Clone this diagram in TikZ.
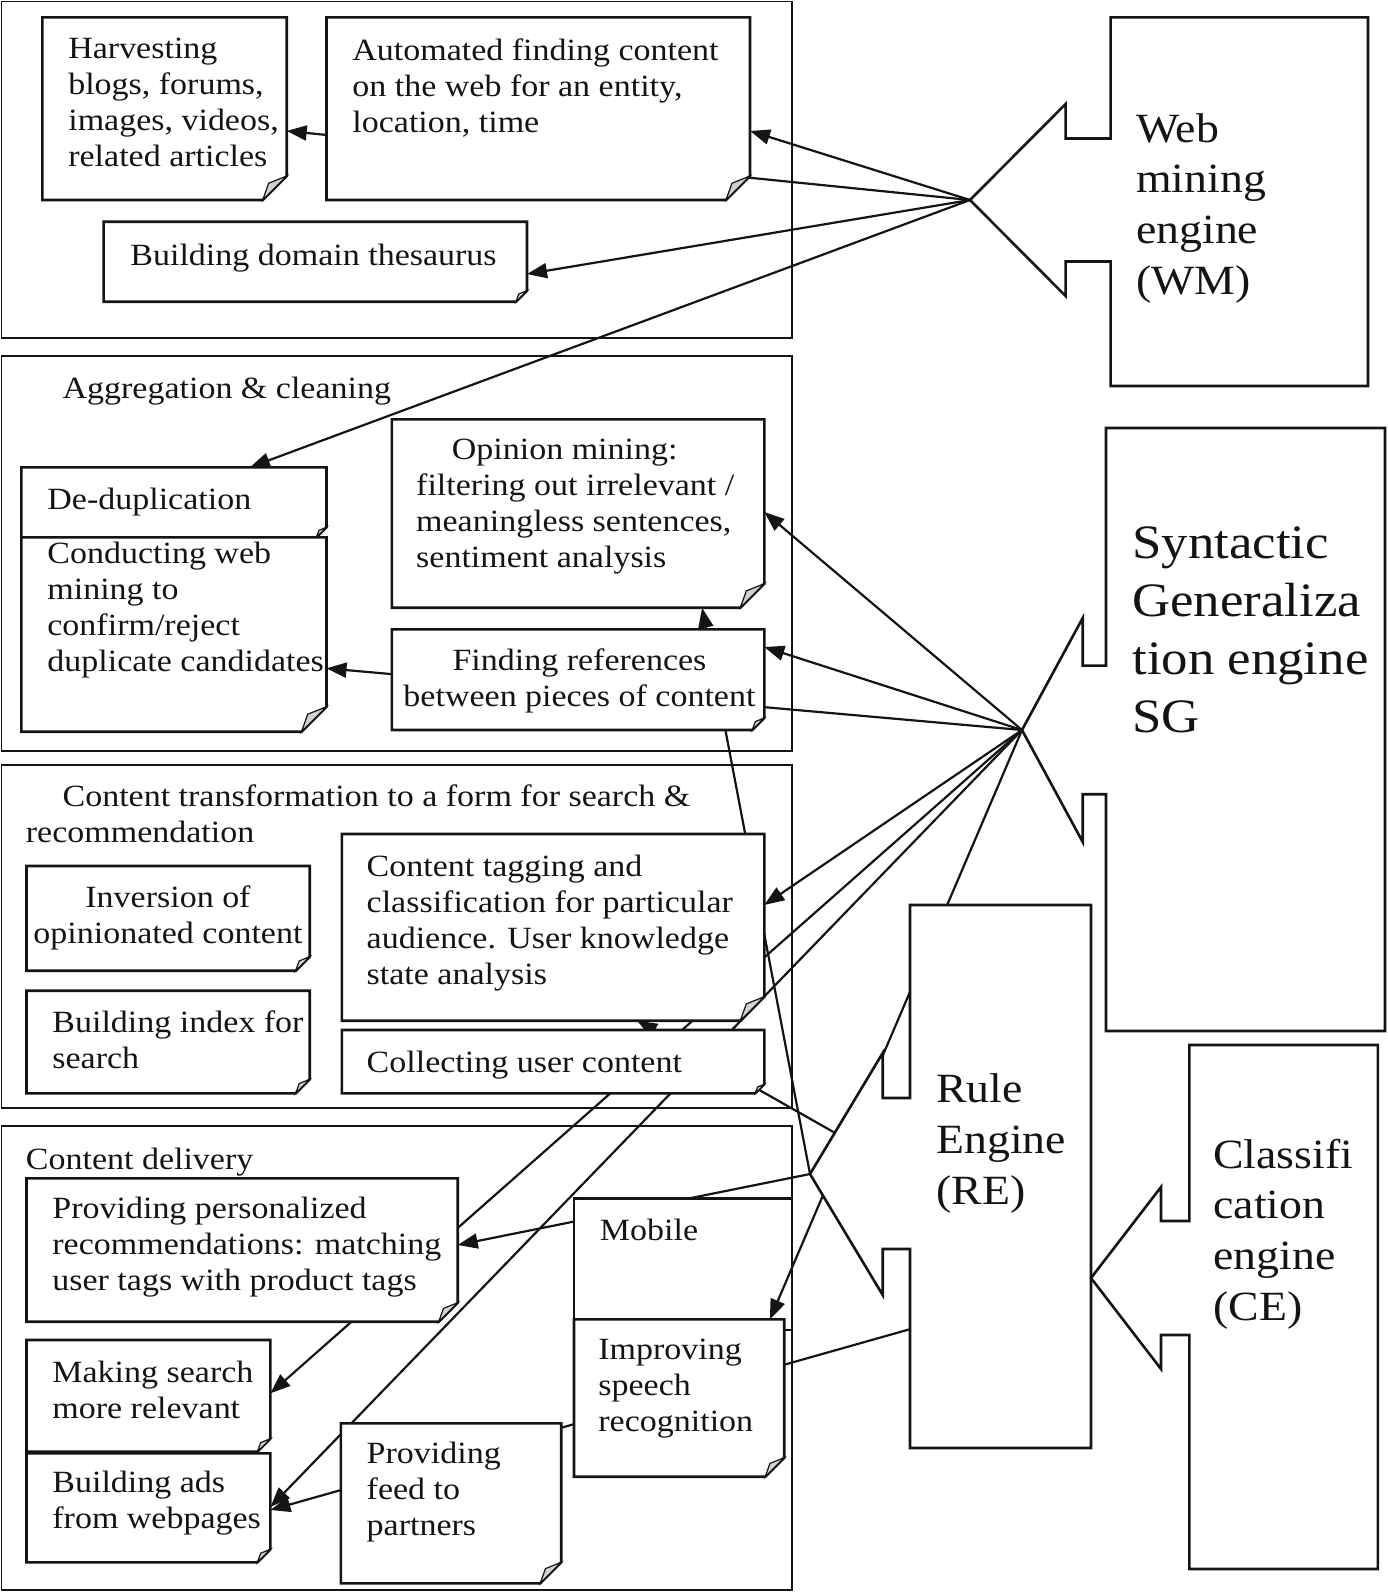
\documentclass[tikz,border=0pt]{standalone}
\usepackage{fontspec}
\setmainfont{Liberation Serif}[FakeStretch=1.1]
\usetikzlibrary{arrows.meta,calc,fit}
\definecolor{ink}{HTML}{141414}
\definecolor{foldgray}{HTML}{D2D2D2}
\newcommand\bodyfont{\fontsize{15.45pt}{18pt}\selectfont}
\newcommand\engfont{\fontsize{20.8pt}{25.4pt}\selectfont}
\newcommand\sgfont{\fontsize{24pt}{29pt}\selectfont}
\tikzset{
  grp/.style={draw=ink, line width=0.8pt, inner sep=0pt, outer sep=0pt},
  holder/.style={inner sep=0pt, outer sep=0pt},
  boxline/.style={draw=ink, line width=1.3pt, fill=white, line join=miter},
  foldline/.style={draw=ink, line width=0.6pt, fill=foldgray},
  callout/.style={draw=ink, line width=1.3pt, fill=white, line join=miter},
  conn/.style={draw=ink, line width=1.1pt},
  arr/.style={conn, -{Triangle[length=10pt,width=7.5pt]}},
  txt/.style={inner sep=0pt, anchor=north west, align=left, font=\bodyfont, text=ink},
  ctxt/.style={inner sep=0pt, anchor=north, align=center, font=\bodyfont, text=ink},
  etxt/.style={inner sep=0pt, anchor=north west, align=left, font=\engfont, text=ink},
}
\newcommand\defbox[5]{%
  \coordinate (#1-nw) at (#2,#3);
  \coordinate (#1-se) at (#4,#5);
  \node[holder, fit=(#1-nw)(#1-se)] (#1) {};}
\newcommand\drawnote[2]{%
  \path[boxline] (#1.north west) -- (#1.north east) -- ($(#1.south east)+(0,-#2)$)
     -- ($(#1.south east)+(-#2,0)$) -- (#1.south west) -- cycle;
  \path[foldline] ($(#1.south east)+(0,-#2)$) -- ($(#1.south east)+(-#2,0)$)
     -- ($(#1.south east)+(-0.75*#2,-0.7*#2)$) -- cycle;}
\begin{document}
\begin{tikzpicture}[x=0.5pt,y=-0.5pt]
\useasboundingbox (0,0) rectangle (1388,1592);

% ---- group frames
\coordinate (g1-nw) at (1.5,1.5);   \coordinate (g1-se) at (792,338);
\coordinate (g2-nw) at (1.5,356);   \coordinate (g2-se) at (792,751);
\coordinate (g3-nw) at (1.5,765);   \coordinate (g3-se) at (792,1108);
\coordinate (g4-nw) at (1.5,1126);  \coordinate (g4-se) at (792,1590);
\node[grp, fit=(g1-nw)(g1-se)] (g1) {};
\node[grp, fit=(g2-nw)(g2-se)] (g2) {};
\node[grp, fit=(g3-nw)(g3-se)] (g3) {};
\node[grp, fit=(g4-nw)(g4-se)] (g4) {};

% ---- box placeholders
\defbox{harv}{42.3}{17.3}{286.7}{200}
\defbox{auto}{326.5}{17.3}{750}{200}
\defbox{thes}{103.6}{221.7}{527}{301.7}
\defbox{dedup}{21.4}{467.3}{326.5}{537.3}
\defbox{cond}{21.4}{537.3}{326.5}{731.7}
\defbox{opin}{391.8}{419.3}{764.3}{607.7}
\defbox{find}{391.8}{629.3}{764.3}{730}
\defbox{inv}{26.5}{866}{309.7}{970.7}
\defbox{bidx}{26.5}{990.7}{309.7}{1093.3}
\defbox{tag}{341.8}{834}{764.3}{1020.7}
\defbox{coll}{341.8}{1030}{764.3}{1093.3}
\defbox{pers}{26.5}{1178.3}{457.7}{1321.7}
\defbox{mks}{26.5}{1340}{270.4}{1451.7}
\defbox{ads}{26.5}{1453.3}{270.4}{1562.3}
\defbox{mob}{574}{1198.3}{792}{1330}
\defbox{impr}{574}{1319.3}{784.2}{1476.7}
\defbox{feed}{340.8}{1423.3}{561.2}{1583.3}
% engines
\defbox{wm}{1110.6}{17.3}{1368}{386}
\defbox{sg}{1106}{428}{1385}{1031}
\defbox{re}{910}{905}{1091}{1448}
\defbox{ce}{1189.4}{1045}{1377.8}{1569}
\coordinate (wmtip) at (970,200);
\coordinate (sgtip) at (1022,730);
\coordinate (retip) at (810,1174);
\coordinate (cetip) at (1091,1278);

% ---- connectors (behind boxes)
\draw[arr] (wmtip) -- ($(auto.north east)!0.622!(auto.south east)$);
\draw[arr] (wmtip) -- ($(harv.north east)!0.622!(harv.south east)$);
\draw[arr] (wmtip) -- ($(thes.north east)!0.654!(thes.south east)$);
\draw[arr] (wmtip) -- ($(dedup.north west)!0.749!(dedup.north east)$);
\draw[arr] (sgtip) -- ($(opin.north east)!0.492!(opin.south east)$);
\draw[arr] (sgtip) -- ($(find.north east)!0.176!(find.south east)$);
\draw[arr] (sgtip) -- ($(cond.north east)!0.674!(cond.south east)$);
\draw[arr] (sgtip) -- ($(tag.north east)!0.380!(tag.south east)$);
\draw[arr] (sgtip) -- ($(mks.north east)!0.477!(mks.south east)$);
\draw[arr] (sgtip) -- ($(ads.north east)!0.493!(ads.south east)$);
\draw[arr] (retip) -- ($(opin.south west)!0.833!(opin.south east)$);
\draw[arr] (retip) -- ($(pers.north east)!0.465!(pers.south east)$);
\draw[arr] (cetip) -- ($(tag.south west)!0.699!(tag.south east)$);
\draw[arr] (cetip) -- ($(ads.north east)!0.520!(ads.south east)$);

% ---- note boxes
\drawnote{harv}{24}
\drawnote{auto}{24}
\drawnote{thes}{11}
\drawnote{dedup}{10}
\drawnote{cond}{25}
\drawnote{opin}{24}
\drawnote{find}{12}
\drawnote{inv}{14}
\drawnote{bidx}{14}
\drawnote{tag}{24}
\drawnote{coll}{9}
\drawnote{pers}{19}
\drawnote{mks}{13}
\drawnote{ads}{13}
\path[boxline] (mob.north west) rectangle (mob.south east);
\drawnote{impr}{19}
\drawnote{feed}{21}

% connector drawn over the Mobile box
\draw[arr] (sgtip) -- ($(impr.north west)!0.932!(impr.north east)$);

% ---- engine callouts
\path[callout] (wm.north west) -- (wm.north east) -- (wm.south east) -- (wm.south west)
  -- (1110.6,261.5) -- (1065.6,261.5) -- (1065.6,296) -- (wmtip) -- (1065.6,104)
  -- (1065.6,138.5) -- (1110.6,138.5) -- cycle;
\path[callout] (sg.north west) -- (sg.north east) -- (sg.south east) -- (sg.south west)
  -- (1106,794.2) -- (1082.7,794.2) -- (1082.7,842) -- (sgtip) -- (1082.7,618)
  -- (1082.7,665.6) -- (1106,665.6) -- cycle;
\path[callout] (re.north west) -- (re.north east) -- (re.south east) -- (re.south west)
  -- (910,1249) -- (882.7,1249) -- (882.7,1295) -- (retip) -- (882.7,1053)
  -- (882.7,1098) -- (910,1098) -- cycle;
\path[callout] (ce.north west) -- (ce.north east) -- (ce.south east) -- (ce.south west)
  -- (1189.4,1335) -- (1161,1335) -- (1161,1369) -- (cetip) -- (1161,1187)
  -- (1161,1221) -- (1189.4,1221) -- cycle;

% ---- texts
\node[txt] (harv-t) at (67.9,38) {Harvesting\\blogs, forums,\\images, videos,\\related articles};
\node[txt] (auto-t) at (352,38) {Automated finding content\\on the web for an entity,\\location, time};
\node[txt] (thes-t) at (130,243.7) {Building domain thesaurus};
\node[txt] (g2-t) at (62.2,377) {Aggregation \& cleaning};
\node[txt] (dedup-t) at (47,488) {De-duplication};
\node[txt] (cond-t) at (47,542) {Conducting web\\mining to\\confirm/reject\\duplicate candidates};
\node[txt] (opin-t) at (415.8,438.7) {\hspace*{17.85pt}Opinion mining:\\filtering out irrelevant /\\meaningless sentences,\\sentiment analysis};
\node[ctxt] (find-t) at (579.5,648.7) {Finding references\\between pieces of content};
\node[txt] (g3-t) at (25.5,784.7) {\hspace*{18.35pt}Content transformation to a form for search \&\\recommendation};
\node[ctxt] (inv-t) at (168,885.4) {Inversion of\\opinionated content};
\node[txt] (bidx-t) at (52,1010.4) {Building index for\\search};
\node[txt] (tag-t) at (366.3,854.7) {Content tagging and\\classification for particular\\audience. User knowledge\\state analysis};
\node[txt] (coll-t) at (366.3,1050.4) {Collecting user content};
\node[txt] (g4-t) at (25.5,1148) {Content delivery};
\node[txt] (pers-t) at (52,1197) {Providing personalized\\recommendations: matching\\user tags with product tags};
\node[txt] (mks-t) at (52,1360.4) {Making search\\more relevant};
\node[txt] (ads-t) at (52,1470.4) {Building ads\\from webpages};
\node[txt] (mob-t) at (599.5,1218.7) {Mobile};
\node[txt] (impr-t) at (598,1338.7) {Improving\\speech\\recognition};
\node[txt] (feed-t) at (366.3,1442) {Providing\\feed to\\partners};
\node[etxt] (wm-t) at (1135.8,112.8) {Web\\mining\\engine\\(WM)};
\node[etxt, font=\sgfont] (sg-t) at (1132,526.7) {Syntactic\\Generaliza\\tion engine\\SG};
\node[etxt] (re-t) at (936,1073.3) {Rule\\Engine\\(RE)};
\node[etxt] (ce-t) at (1213,1138.3) {Classifi\\cation\\engine\\(CE)};
\end{tikzpicture}
\end{document}
